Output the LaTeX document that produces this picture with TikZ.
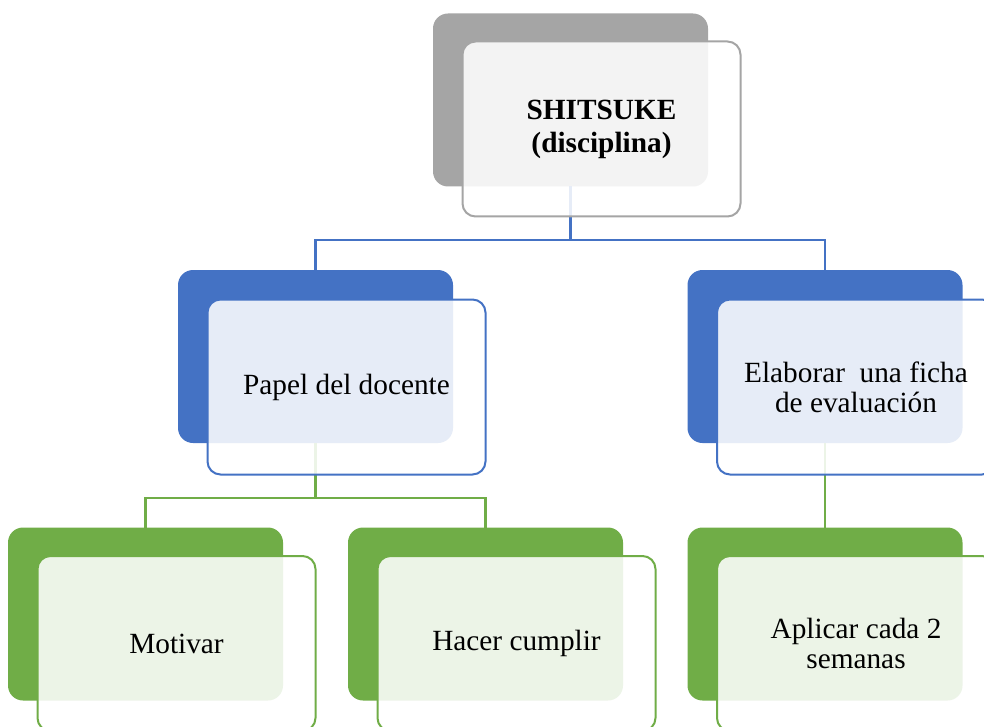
\documentclass[tikz,border=0pt]{standalone}
\usepackage{fontspec}
\setmainfont{Liberation Serif}
\definecolor{cgray}{HTML}{A5A5A5}
\definecolor{cblue}{HTML}{4472C4}
\definecolor{cgreen}{HTML}{70AD47}
\tikzset{
  backbox/.style={fill=#1, rounded corners=15pt, minimum width=275pt, minimum height=173pt, inner sep=0pt, outer sep=0pt},
  frontbox/.style={draw=#1, line width=2pt, fill=white, fill opacity=0.87, text opacity=1, rounded corners=13pt, minimum width=278pt, minimum height=175pt, inner sep=0pt, outer sep=0pt, align=center, font=\fontsize{29.3}{30}\selectfont},
  conn/.style={draw=#1, line width=2.2pt},
}
\begin{document}
\begin{tikzpicture}[x=1pt,y=-1pt]
\useasboundingbox (0,0) rectangle (984,727);
\clip (0,0) rectangle (984,727);
% back boxes
\node[backbox=cgray] (t) at (570.5,100) {};
\node[backbox=cblue] (p) at (315.5,356.5) {};
\node[backbox=cblue] (e) at (825,356.5) {};
\node[backbox=cgreen] (m) at (145.5,614) {};
\node[backbox=cgreen] (h) at (485.5,614) {};
\node[backbox=cgreen] (a) at (825,614) {};
% connectors
\coordinate (j1) at (570.5,240);
\coordinate (j2) at (315.5,498);
\draw[conn=cblue] (t.south) -- (j1) -| (p.north);
\draw[conn=cblue] (j1) -| (e.north);
\draw[conn=cgreen] (p.south) -- (j2) -| (m.north);
\draw[conn=cgreen] (j2) -| (h.north);
\draw[conn=cgreen] (e.south) -- (a.north);
% front boxes
\node[frontbox=cgray, font=\fontsize{29.3}{33}\selectfont] (tf) at (601.5,129) {\textbf{SHITSUKE}\\\textbf{(disciplina)}};
\node[frontbox=cblue] (pf) at (346.5,387) {Papel del docente};
\node[frontbox=cblue] (ef) at (856,387) {Elaborar\ \ una ficha\\de evaluación};
\node[frontbox=cgreen] (mf) at (176.5,643.5) {Motivar};
\node[frontbox=cgreen] (hf) at (516.5,643.5) {Hacer cumplir};
\node[frontbox=cgreen] (af) at (856,643.5) {Aplicar cada 2\\semanas};
\end{tikzpicture}
\end{document}
